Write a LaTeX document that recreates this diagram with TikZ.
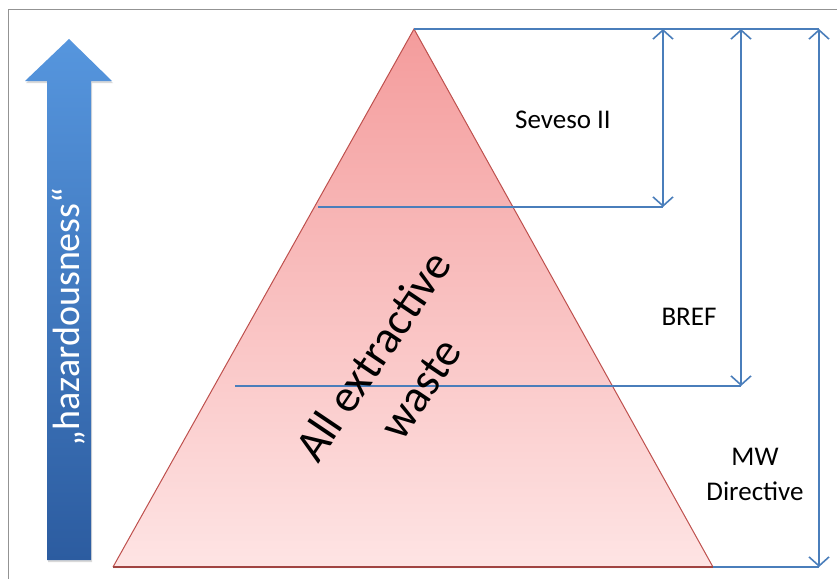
\documentclass[tikz,border=0pt]{standalone}
\usepackage{fontspec}
\setmainfont{Carlito}
\usetikzlibrary{arrows.meta,shadows}
\definecolor{lineblue}{RGB}{74,126,187}
\definecolor{edgered}{RGB}{190,80,77}
\definecolor{pinktop}{RGB}{244,156,156}
\definecolor{pinkbot}{RGB}{254,228,228}
\definecolor{arrowtop}{RGB}{86,150,222}
\definecolor{arrowbot}{RGB}{44,92,160}
\begin{document}
\begin{tikzpicture}[x=1pt,y=-1pt,
  dim/.style={draw=lineblue, line width=1.6pt},
  dimarrow/.style={dim, {Straight Barb[length=9pt,width=20pt,line width=1.6pt]}-{Straight Barb[length=9pt,width=20pt,line width=1.6pt]}},
  lbl/.style={font=\fontsize{27}{35}\selectfont, text=black, align=center, inner sep=0pt},
  bigtext/.style={font=\fontsize{46}{57}\selectfont, text=black, align=center, inner sep=0pt}]
\useasboundingbox (0,0) rectangle (837,578);
\draw[gray!85, line width=1pt] (8,10) rectangle (850,600);

% coordinates
\coordinate (apex) at (414,29);
\coordinate (bl) at (113,567);
\coordinate (br) at (713,567);
\coordinate (tr) at (819,29);
\coordinate (sevL) at (318,207);
\coordinate (sevR) at (663,207);
\coordinate (sevT) at (663,29);
\coordinate (brefL) at (235,386);
\coordinate (brefR) at (741,386);
\coordinate (brefT) at (741,29);
\coordinate (mwB) at (819,567);

% pyramid
\shade[top color=pinktop, bottom color=pinkbot] (apex) -- (bl) -- (br) -- cycle;
\draw[edgered, line width=1pt] (bl) -- (apex) -- (br);
\draw[edgered!85!black, line width=2pt, drop shadow={opacity=0.25, shadow xshift=0pt, shadow yshift=-1.5pt}] (bl) -- (br);

% dimension lines
\draw[dim] (apex) -- (tr);
\draw[dim] (sevL) -- (sevR);
\draw[dim] (brefL) -- (brefR);
\draw[dim] (br) -- (mwB);
\draw[dimarrow] (sevT) -- (sevR);
\draw[dimarrow] (brefT) -- (brefR);
\draw[dimarrow] (tr) -- (mwB);

% labels
\node[lbl] (seveso) at (563,120) {Seveso II};
\node[lbl] (bref) at (689,317) {BREF};
\node[lbl] (mw) at (755,474) {MW\\Directive};
\node[bigtext, rotate=56] (all) at (396,372) {All extractive\\waste};

% hazardousness arrow
\shade[top color=arrowtop, bottom color=arrowbot, drop shadow={opacity=0.3, shadow xshift=1pt, shadow yshift=-2pt}]
  (47,560) -- (91,560) -- (91,81) -- (112,81) -- (69,39) -- (25,81) -- (47,81) -- cycle;
\node[font=\fontsize{38}{44}\selectfont, text=white, rotate=90, inner sep=0pt] (haz) at (69,317) {„hazardousness“};
\end{tikzpicture}
\end{document}
